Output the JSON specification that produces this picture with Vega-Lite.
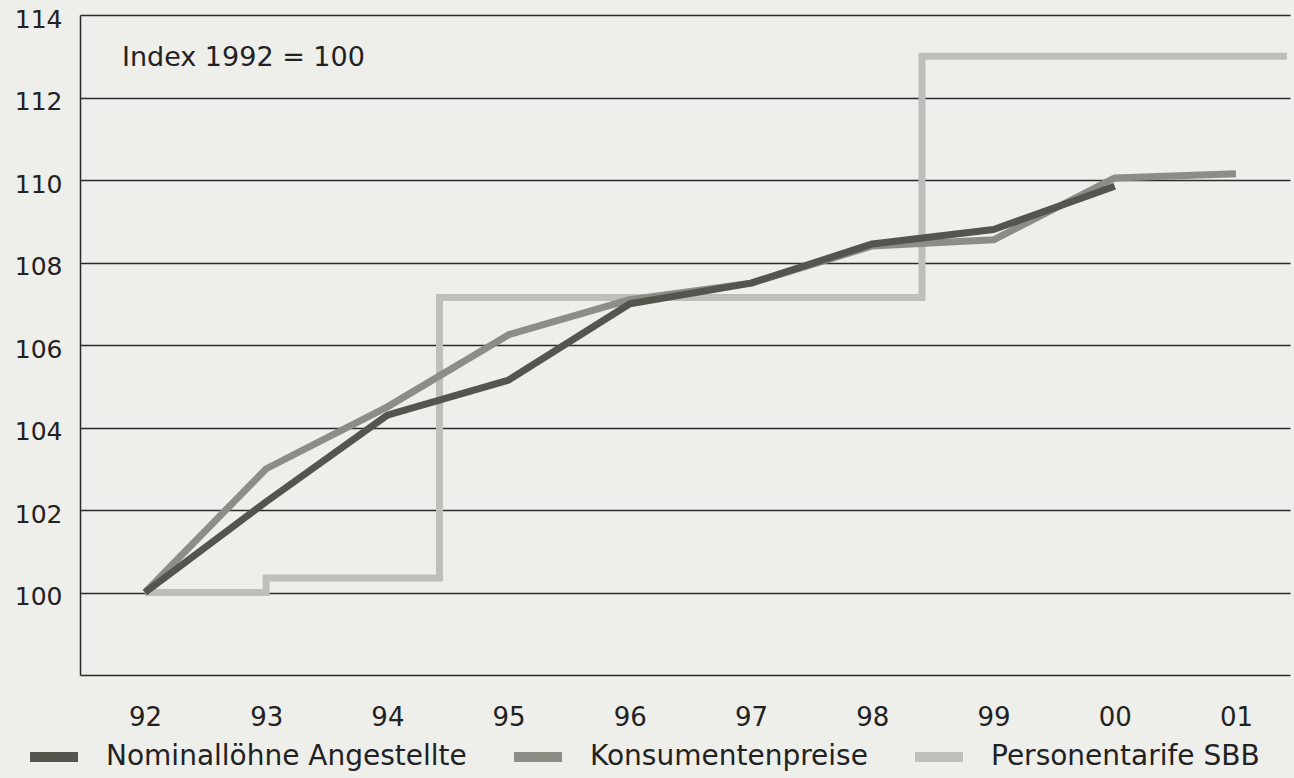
{
  "$schema": "https://vega.github.io/schema/vega-lite/v6.json",
  "width": 1210,
  "height": 660,
  "autosize": {"type": "none"},
  "padding": {"left": 80, "top": 15, "right": 4, "bottom": 103},
  "background": "#eeeeea",
  "config": {"view": {"stroke": null}, "font": "DejaVu Sans"},
  "datasets": {
    "sbb": [
      {"series": "Personentarife SBB", "year": 1992, "value": 100.0},
      {"series": "Personentarife SBB", "year": 1993, "value": 100.35},
      {"series": "Personentarife SBB", "year": 1994.43, "value": 107.15},
      {"series": "Personentarife SBB", "year": 1998.41, "value": 113.0},
      {"series": "Personentarife SBB", "year": 2001.42, "value": 113.0}
    ],
    "kp": [
      {"series": "Konsumentenpreise", "year": 1992, "value": 100.0},
      {"series": "Konsumentenpreise", "year": 1993, "value": 103.0},
      {"series": "Konsumentenpreise", "year": 1994, "value": 104.5},
      {"series": "Konsumentenpreise", "year": 1995, "value": 106.25},
      {"series": "Konsumentenpreise", "year": 1996, "value": 107.1},
      {"series": "Konsumentenpreise", "year": 1997, "value": 107.5},
      {"series": "Konsumentenpreise", "year": 1998, "value": 108.4},
      {"series": "Konsumentenpreise", "year": 1999, "value": 108.55},
      {"series": "Konsumentenpreise", "year": 2000, "value": 110.05},
      {"series": "Konsumentenpreise", "year": 2001, "value": 110.15}
    ],
    "nl": [
      {"series": "Nominallöhne Angestellte", "year": 1992, "value": 100.0},
      {"series": "Nominallöhne Angestellte", "year": 1993, "value": 102.2},
      {"series": "Nominallöhne Angestellte", "year": 1994, "value": 104.3},
      {"series": "Nominallöhne Angestellte", "year": 1995, "value": 105.15},
      {"series": "Nominallöhne Angestellte", "year": 1996, "value": 107.0},
      {"series": "Nominallöhne Angestellte", "year": 1997, "value": 107.5},
      {"series": "Nominallöhne Angestellte", "year": 1998, "value": 108.45},
      {"series": "Nominallöhne Angestellte", "year": 1999, "value": 108.8},
      {"series": "Nominallöhne Angestellte", "year": 2000, "value": 109.85}
    ],
    "note": [
      {"year": 1991.81, "value": 112.96, "label": "Index 1992 = 100"}
    ]
  },
  "encoding": {
    "x": {
      "field": "year",
      "type": "quantitative",
      "scale": {"domain": [1991.464, 2001.446], "nice": false, "zero": false},
      "axis": {
        "values": [1992, 1993, 1994, 1995, 1996, 1997, 1998, 1999, 2000, 2001],
        "labelExpr": "substring(toString(datum.value), 2)",
        "title": null,
        "grid": false,
        "ticks": false,
        "domainColor": "#2a2a2a",
        "domainWidth": 1.5,
        "labelFontSize": 26,
        "labelColor": "#222222",
        "labelPadding": 29,
        "labelFlush": false,
        "labelFont": "DejaVu Sans"
      }
    },
    "y": {
      "field": "value",
      "type": "quantitative",
      "scale": {"domain": [98, 114], "nice": false, "zero": false},
      "axis": {
        "values": [100, 102, 104, 106, 108, 110, 112, 114],
        "title": null,
        "grid": true,
        "gridColor": "#2a2a2a",
        "gridWidth": 1.5,
        "gridOpacity": 1,
        "ticks": false,
        "domainColor": "#2a2a2a",
        "domainWidth": 1.5,
        "labelFontSize": 25,
        "labelColor": "#222222",
        "labelPadding": 18,
        "labelOffset": 4,
        "labelFont": "DejaVu Sans"
      }
    }
  },
  "layer": [
    {
      "data": {"name": "sbb"},
      "mark": {"type": "line", "interpolate": "step-after", "strokeWidth": 7, "strokeCap": "butt", "strokeJoin": "miter"},
      "encoding": {
        "color": {
          "field": "series",
          "type": "nominal",
          "scale": {
            "domain": ["Nominallöhne Angestellte", "Konsumentenpreise", "Personentarife SBB"],
            "range": ["#55554f", "#8d8d88", "#bebeba"]
          },
          "legend": {
            "orient": "none",
            "legendX": -55,
            "legendY": 713,
            "direction": "horizontal",
            "title": null,
            "padding": 0,
            "symbolType": "stroke",
            "symbolSize": 2304,
            "symbolStrokeWidth": 10,
            "symbolOpacity": 1,
            "labelFontSize": 28,
            "labelColor": "#222222",
            "labelOffset": 23,
            "columnPadding": 27,
            "labelLimit": 0,
            "labelFont": "DejaVu Sans"
          }
        }
      }
    },
    {
      "data": {"name": "kp"},
      "mark": {"type": "line", "strokeWidth": 7, "strokeCap": "butt", "strokeJoin": "round"},
      "encoding": {"color": {"field": "series", "type": "nominal"}}
    },
    {
      "data": {"name": "nl"},
      "mark": {"type": "line", "strokeWidth": 7, "strokeCap": "butt", "strokeJoin": "round"},
      "encoding": {"color": {"field": "series", "type": "nominal"}}
    },
    {
      "data": {"name": "note"},
      "mark": {"type": "text", "align": "left", "baseline": "middle", "fontSize": 27, "color": "#222222", "font": "DejaVu Sans"},
      "encoding": {"text": {"field": "label"}}
    }
  ]
}
